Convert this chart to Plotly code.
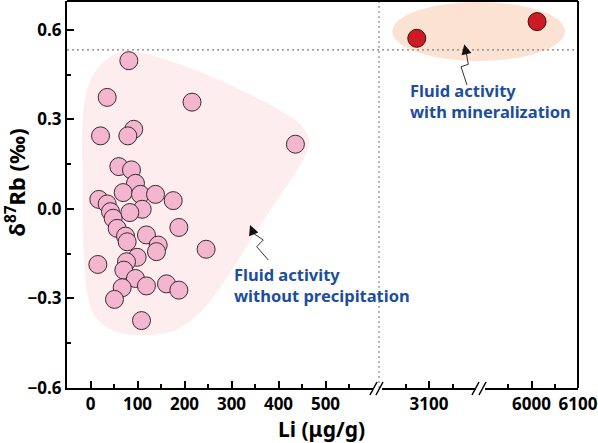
import plotly.graph_objects as go

# ---------------- data ----------------
li_pink = [81.6, 35.5, 216, 21.3, 92, 79.4, 436, 60.3, 87.2, 95.7, 69.5, 106.4, 138.3,
           176, 17.7, 35.5, 42.6, 110, 83.7, 48.2, 56.7, 188, 74.5, 119, 78, 144, 140.4,
           246, 99.3, 15.6, 76.6, 70.9, 95.7, 67.4, 119, 161.7, 188, 51, 108.5]
rb_pink = [0.497, 0.374, 0.358, 0.245, 0.267, 0.245, 0.217, 0.142, 0.131, 0.086, 0.055,
           0.049, 0.049, 0.028, 0.032, 0.017, -0.009, -0.001, -0.012, -0.031, -0.065,
           -0.062, -0.091, -0.087, -0.11, -0.121, -0.143, -0.135, -0.162, -0.186, -0.177,
           -0.205, -0.233, -0.264, -0.258, -0.251, -0.272, -0.303, -0.374]

li_red = [3074, 6012]
rb_red = [0.572, 0.628]

hull_li = [63.8, 78.7, 127.7, 234, 319, 393.6, 446.8, 466, 452, 400, 340.4, 287.2,
           234, 180.9, 127.7, 63.8, 14, -6, -15, -17, -15, 0, 27.7, 63.8]
hull_rb = [0.526, 0.530, 0.516, 0.459, 0.399, 0.339, 0.282, 0.225, 0.164, 0.037, -0.104,
           -0.238, -0.345, -0.406, -0.422, -0.416, -0.37, -0.29, -0.138, 0.097, 0.332,
           0.432, 0.493, 0.526]

threshold = 0.533

seg_ranges = [[-50, 600], [3000, 3200], [5900, 6100]]
seg_ticks = [[0, 100, 200, 300, 400, 500], [3100], [6000, 6100]]
seg_minor = [[50, 150, 250, 350, 450, 550], [3050, 3150], [5950, 6050]]
y_ticks = [-0.6, -0.3, 0.0, 0.3, 0.6]
y_minor = [-0.45, -0.15, 0.15, 0.45]

# ---------------- layout geometry (pixels) ----------------
W, H = 598, 443
ML, MR, MT, MB = 67, 20, 1, 55
PW, PH = W - ML - MR, H - MT - MB
def px(x):
    return (x - ML) / PW
def py(y):
    return (H - MB - y) / PH

domains = [[0, px(372.5)], [px(382), px(476)], [px(485), 1.0]]

FONT = "Noto Sans"
BLUE = "#1d4e9e"
PINK = "#f4b5cf"
HULL = "#fdedef"
RED = "#cc1b25"

fig = go.Figure()

fig.add_trace(go.Scatter(x=hull_li, y=hull_rb, mode="lines", fill="toself",
                         fillcolor=HULL, line=dict(width=0, shape="spline", smoothing=1),
                         hoverinfo="skip", showlegend=False, xaxis="x", yaxis="y"))

fig.add_trace(go.Scatter(x=li_pink, y=rb_pink, mode="markers",
                         marker=dict(size=18, color=PINK, line=dict(color="#3a2a30", width=1)),
                         showlegend=False, xaxis="x", yaxis="y"))

axis_names = ["x", "x2", "x3"]
for i, (lo, hi) in enumerate(seg_ranges):
    xs = [a for a, b in zip(li_red, rb_red) if lo <= a <= hi]
    ys = [b for a, b in zip(li_red, rb_red) if lo <= a <= hi]
    if xs:
        fig.add_trace(go.Scatter(x=xs, y=ys, mode="markers",
                                 marker=dict(size=18, color=RED, line=dict(color="#4a0808", width=1)),
                                 showlegend=False, xaxis=axis_names[i], yaxis="y"))

tickfont = dict(family=FONT, size=17, color="black", weight=700)
for i in range(3):
    key = "xaxis" if i == 0 else f"xaxis{i+1}"
    fig.layout[key] = dict(domain=domains[i], range=seg_ranges[i], anchor="y",
                           showline=True, linecolor="black", linewidth=2,
                           ticks="inside", ticklen=7, tickwidth=1.5, tickcolor="black",
                           tickmode="array", tickvals=seg_ticks[i],
                           ticktext=[str(v) for v in seg_ticks[i]],
                           ticklabeloverflow="allow",
                           minor=dict(ticks="inside", ticklen=4, tickwidth=1.5,
                                      tickcolor="black", tickvals=seg_minor[i]),
                           showgrid=False, zeroline=False, tickfont=tickfont,
                           fixedrange=True)

fig.update_layout(
    yaxis=dict(range=[-0.6, 0.697], showline=True, linecolor="black", linewidth=2,
               ticks="inside", ticklen=7, tickwidth=1.5, tickcolor="black",
               tickmode="array", tickvals=y_ticks,
               ticktext=[("\u2212" if v < 0 else "") + f"{abs(v):.1f}" for v in y_ticks],
               ticklabeloverflow="allow",
               minor=dict(ticks="inside", ticklen=4, tickwidth=1.5, tickcolor="black",
                          tickvals=y_minor),
               showgrid=False, zeroline=False, tickfont=tickfont),
    width=W, height=H,
    margin=dict(l=ML, r=MR, t=MT, b=MB),
    plot_bgcolor="white", paper_bgcolor="white",
)

shapes = []
# ellipse behind red points
shapes.append(dict(type="circle", xref="paper", yref="y", x0=px(392.3), x1=px(565),
                   y0=0.496, y1=0.694, fillcolor="#fce2d2", line=dict(width=0), layer="below"))
# dotted reference lines
shapes.append(dict(type="line", xref="paper", yref="y", x0=0, x1=1, y0=threshold, y1=threshold,
                   line=dict(color="#808080", width=1.2, dash="2px,3px"), layer="below"))
shapes.append(dict(type="line", xref="paper", yref="paper", x0=px(379), x1=px(379), y0=0, y1=1,
                   line=dict(color="#a0a0a0", width=1.5, dash="2px,3px"), layer="below"))
# frame top / right
shapes.append(dict(type="line", xref="paper", yref="paper", x0=0, x1=1, y0=1, y1=1,
                   line=dict(color="black", width=2)))
shapes.append(dict(type="line", xref="paper", yref="paper", x0=1, x1=1, y0=0, y1=1,
                   line=dict(color="black", width=2)))
# axis break marks
for (a, b) in [((370, 395), (377, 382)), ((376, 395), (383, 382)),
               ((472, 395), (479, 382)), ((479, 395), (486, 382))]:
    shapes.append(dict(type="line", xref="paper", yref="paper",
                       x0=px(a[0]), y0=py(a[1]), x1=px(b[0]), y1=py(b[1]),
                       line=dict(color="black", width=1.5)))
# wiggly arrow bodies
def wiggle(points):
    return "M " + " L ".join(f"{px(x):.5f},{py(y):.5f}" for x, y in points)
arrow1 = [(467, 85), (461, 66.7), (468.3, 64.3), (466.3, 53.3)]
arrow2 = [(268.3, 260), (256.7, 246.7), (263.3, 240), (253.3, 233.3)]
for pts in (arrow1, arrow2):
    shapes.append(dict(type="path", xref="paper", yref="paper", path=wiggle(pts),
                       line=dict(color="#333333", width=1)))
fig.update_layout(shapes=shapes)

ann = []
for tail, tip in [((466.3, 53.3), (464.3, 44.3)), ((253.3, 233.3), (250, 225))]:
    ann.append(dict(xref="paper", yref="paper", x=px(tip[0]), y=py(tip[1]),
                    ax=tail[0] - tip[0], ay=tail[1] - tip[1], axref="pixel", ayref="pixel",
                    text="", showarrow=True, arrowhead=2, arrowsize=2.0, arrowwidth=1,
                    arrowcolor="#111111", standoff=0))
ann.append(dict(xref="paper", yref="paper", x=px(408), y=py(101), xanchor="left",
                yanchor="middle", align="left", showarrow=False,
                text="Fluid activity<br>with mineralization",
                font=dict(family=FONT, size=16.5, color=BLUE, weight=700)))
ann.append(dict(xref="paper", yref="paper", x=px(232), y=py(285), xanchor="left",
                yanchor="middle", align="left", showarrow=False,
                text="Fluid activity<br>without precipitation",
                font=dict(family=FONT, size=16.5, color=BLUE, weight=700)))
ann.append(dict(xref="paper", yref="paper", x=px(321), y=py(428.5), xanchor="center",
                yanchor="middle", showarrow=False, text="Li (μg/g)",
                font=dict(family=FONT, size=21, color="black", weight=700)))
ann.append(dict(xref="paper", yref="paper", x=px(15), y=py(182.5), xanchor="center",
                yanchor="middle", showarrow=False, textangle=-90,
                text="δ<sup>87</sup>Rb (‰)",
                font=dict(family=FONT, size=22, color="black", weight=700)))
fig.update_layout(annotations=ann)

fig.write_html("out.html")
